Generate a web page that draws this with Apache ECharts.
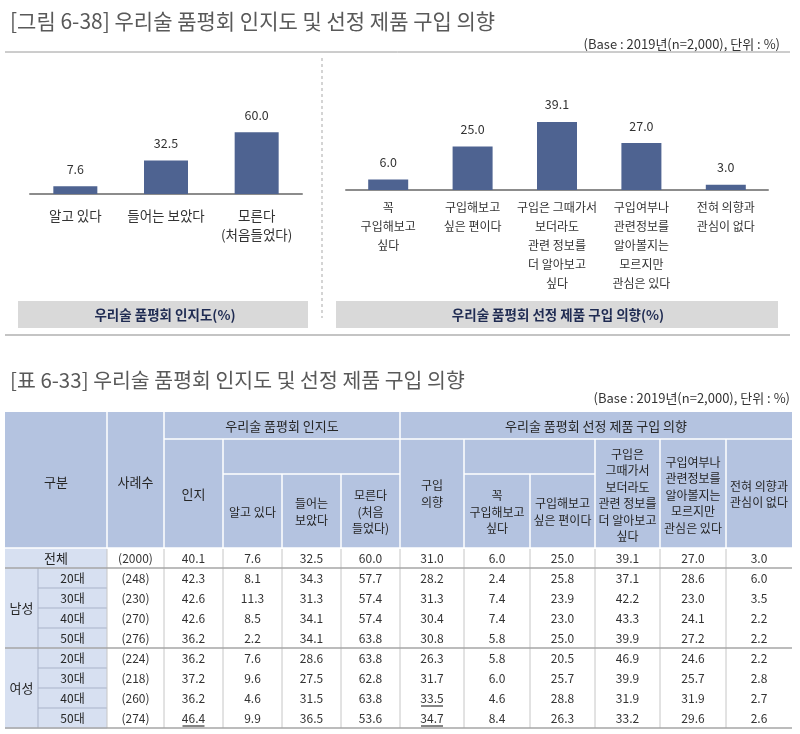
<!DOCTYPE html>
<html>
<head>
<meta charset="utf-8">
<script src="https://cdn.jsdelivr.net/npm/echarts@6/dist/echarts.min.js"></script>
<style>
html,body{margin:0;padding:0;background:#fff;}
#c{width:800px;height:734px;}
</style>
</head>
<body>
<div id="c"></div>
<script>
// ---------- data ----------
const figureTitle = '[그림 6-38] 우리술 품평회 인지도 및 선정 제품 구입 의향';
const tableTitle = '[표 6-33] 우리술 품평회 인지도 및 선정 제품 구입 의향';
const baseNote = '(Base : 2019년(n=2,000), 단위 : %)';

const awarenessCats = ['알고 있다', '들어는 보았다', '모른다\n(처음들었다)'];
const awarenessVals = [7.6, 32.5, 60.0];
const awarenessCaption = '우리술 품평회 인지도(%)';

const intentCats = ['꼭\n구입해보고\n싶다', '구입해보고\n싶은 편이다', '구입은 그때가서\n보더라도\n관련 정보를\n더 알아보고\n싶다', '구입여부나\n관련정보를\n알아볼지는\n모르지만\n관심은 있다', '전혀 의향과\n관심이 없다'];
const intentVals = [6.0, 25.0, 39.1, 27.0, 3.0];
const intentCaption = '우리술 품평회 선정 제품 구입 의향(%)';

const totalLabel = '전체';
const groupLabels = ['남성', '여성'];
const ageLabels = ['20대', '30대', '40대', '50대'];

const sampleSizes = ['(2000)', '(248)', '(230)', '(270)', '(276)', '(224)', '(218)', '(260)', '(274)'];
const awareness = [40.1, 42.3, 42.6, 42.6, 36.2, 36.2, 37.2, 36.2, 46.4];
const knowWell = [7.6, 8.1, 11.3, 8.5, 2.2, 7.6, 9.6, 4.6, 9.9];
const heardOf = [32.5, 34.3, 31.3, 34.1, 34.1, 28.6, 27.5, 31.5, 36.5];
const dontKnow = [60.0, 57.7, 57.4, 57.4, 63.8, 63.8, 62.8, 63.8, 53.6];
const purchaseIntent = [31.0, 28.2, 31.3, 30.4, 30.8, 26.3, 31.7, 33.5, 34.7];
const definitely = [6.0, 2.4, 7.4, 7.4, 5.8, 5.8, 6.0, 4.6, 8.4];
const ratherWant = [25.0, 25.8, 23.9, 23.0, 25.0, 20.5, 25.7, 28.8, 26.3];
const laterInfo = [39.1, 37.1, 42.2, 43.3, 39.9, 46.9, 39.9, 31.9, 33.2];
const unsureInterest = [27.0, 28.6, 23.0, 24.1, 27.2, 24.6, 25.7, 31.9, 29.6];
const noInterest = [3.0, 6.0, 3.5, 2.2, 2.2, 2.2, 2.8, 2.7, 2.6];

const headAware = '우리술 품평회 인지도';
const headIntent = '우리술 품평회 선정 제품 구입 의향';
const headLabels = ['구분', '사례수', '인지', '알고 있다', '들어는\n보았다', '모른다\n(처음\n들었다)',
  '구입\n의향', '꼭\n구입해보고\n싶다', '구입해보고\n싶은 편이다',
  '구입은\n그때가서\n보더라도\n관련 정보를\n더 알아보고\n싶다',
  '구입여부나\n관련정보를\n알아볼지는\n모르지만\n관심은 있다', '전혀 의향과\n관심이 없다'];
// underlined cells: [row, column index in tableColumns]
const underlined = [[8, 1], [7, 5], [8, 5]];

// ---------- layout / style ----------
const FF = "'Noto Sans CJK KR', 'Noto Sans', sans-serif";
const BAR = '#4e6391';
const HEAD = '#b4c3e0';
const LIGHT = '#d7e0f1';

const tableColumns = [sampleSizes, awareness, knowWell, heardOf, dontKnow, purchaseIntent, definitely, ratherWant, laterInfo, unsureInterest, noInterest];
const colX = [5, 38, 107, 164, 223, 282, 341, 400, 464, 530, 595, 660, 726, 792];
const hTop = 412, hMid1 = 439, hMid2 = 474, hBot = 548, rowH = 20;

const g = [];
function rect(x, y, w, h, fill) { g.push({type: 'rect', silent: true, shape: {x, y, width: w, height: h}, style: {fill}}); }
function line(x1, y1, x2, y2, stroke, lw, dash) { g.push({type: 'line', silent: true, shape: {x1, y1, x2, y2}, style: {stroke, lineWidth: lw || 1, lineDash: dash || null}}); }
function text(x, y, t, opt) {
  opt = opt || {};
  g.push({type: 'text', silent: true, x, y, scaleX: opt.scaleX || 1,
    style: {text: t, fill: opt.fill || '#333', font: (opt.weight || 'normal') + ' ' + (opt.size || 12) + 'px ' + FF,
      align: opt.align || 'center', verticalAlign: 'middle', lineHeight: opt.lh || 16.5}});
}

// titles
text(10, 21, figureTitle, {align: 'left', size: 21, fill: '#595959', lh: 25});
text(780, 44, baseNote, {align: 'right', size: 13, fill: '#333', lh: 16});
line(5, 52, 790, 52, '#9a9a9a', 1);
line(322, 58, 322, 318, '#aaaaaa', 1, [3, 3]);
rect(18, 301, 290, 27, '#d9d9d9');
rect(336, 301, 442, 27, '#d9d9d9');
text(165, 315, awarenessCaption, {weight: 'bold', size: 13.5, fill: '#1f2b52'});
text(558, 315, intentCaption, {weight: 'bold', size: 13.5, fill: '#1f2b52'});
line(5, 335, 790, 335, '#c4c4c4', 2);

text(10, 380, tableTitle, {align: 'left', size: 20.5, fill: '#595959', lh: 24});
text(790, 398, baseNote, {align: 'right', size: 13, fill: '#333', lh: 16});

// ----- table header -----
rect(colX[0], hTop, colX[13] - colX[0], hBot - hTop, HEAD);
const W = '#ffffff';
line(colX[2], hTop, colX[2], hBot, W, 1.5);
line(colX[3], hTop, colX[3], hBot, W, 1.5);
line(colX[7], hTop, colX[7], hBot, W, 1.5);
line(colX[3], hMid1, colX[13], hMid1, W, 1.5);
line(colX[4], hMid1, colX[4], hBot, W, 1.5);
line(colX[4], hMid2, colX[7], hMid2, W, 1.5);
line(colX[5], hMid2, colX[5], hBot, W, 1.5);
line(colX[6], hMid2, colX[6], hBot, W, 1.5);
line(colX[8], hMid1, colX[8], hBot, W, 1.5);
line(colX[8], hMid2, colX[10], hMid2, W, 1.5);
line(colX[9], hMid2, colX[9], hBot, W, 1.5);
line(colX[10], hMid1, colX[10], hBot, W, 1.5);
line(colX[11], hMid1, colX[11], hBot, W, 1.5);
line(colX[12], hMid1, colX[12], hBot, W, 1.5);
line(colX[0], hBot, colX[13], hBot, W, 1.5);

const hf = {fill: '#262626', size: 12};
const hf13 = {fill: '#262626', size: 13};
const mid = (a, b) => (colX[a] + colX[b]) / 2;
text(mid(0, 2), 482, headLabels[0], hf13);
text(mid(2, 3), 482, headLabels[1], hf13);
text(mid(3, 7), 426, headAware, hf13);
text(mid(7, 13), 426, headIntent, hf13);
text(mid(3, 4), 494, headLabels[2], hf13);
text(mid(4, 5), 512, headLabels[3], hf);
text(mid(5, 6), 512, headLabels[4], hf);
text(mid(6, 7), 512, headLabels[5], hf);
text(mid(7, 8), 494, headLabels[6], hf);
text(mid(8, 9), 512, headLabels[7], hf);
text(mid(9, 10), 512, headLabels[8], hf);
text(mid(10, 11), 495.5, headLabels[9], hf);
text(mid(11, 12), 495, headLabels[10], hf);
text(mid(12, 13), 494.5, headLabels[11], hf);

// ----- table body -----
const nRows = sampleSizes.length;
const bodyBot = hBot + rowH * nRows;
rect(colX[0], hBot + 0.75, colX[2] - colX[0], rowH * nRows, LIGHT);
for (let r = 1; r < nRows; r++) {
  if (r === 1 || r === 5) continue;
  line(colX[1], hBot + r * rowH, colX[2], hBot + r * rowH, '#a9b3c9', 1);
}
line(colX[1], hBot + rowH, colX[1], bodyBot, '#a9b3c9', 1);
for (let c = 2; c < 13; c++) line(colX[c], hBot + 1, colX[c], bodyBot, '#c6c6c6', 1);
[hBot + rowH, hBot + 5 * rowH, bodyBot].forEach(y => line(colX[0], y, colX[13], y, '#a6a6a6', 1.5));

text(mid(0, 2), hBot + rowH / 2, totalLabel, hf13);
groupLabels.forEach((gl, gi) => {
  text(mid(0, 1), hBot + rowH * (1 + gi * 4) + rowH * 2, gl, hf13);
  ageLabels.forEach((al, ai) => text(mid(1, 2), hBot + rowH * (1 + gi * 4 + ai) + rowH / 2, al, hf));
});
tableColumns.forEach((col, ci) => {
  col.forEach((v, r) => {
    const t = typeof v === 'number' ? v.toFixed(1) : v;
    const cx = mid(ci + 2, ci + 3), cy = hBot + r * rowH + rowH / 2;
    text(cx, cy, t, {fill: '#333', size: 12});
  });
});
underlined.forEach(([r, ci]) => {
  const cx = mid(ci + 2, ci + 3), cy = hBot + r * rowH + rowH / 2;
  line(cx - 11, cy + 8, cx + 11, cy + 8, '#333', 1.2);
});

// ---------- chart ----------
const chart = echarts.init(document.getElementById('c'));
const axisCommon = {
  type: 'category',
  axisTick: {show: false},
  axisLine: {lineStyle: {color: '#8c8c8c', width: 2}},
  axisLabel: {interval: 0, color: '#333', fontSize: 12, lineHeight: 19, fontFamily: FF}
};
const labelCommon = {show: true, position: 'top', distance: 11, color: '#333', fontSize: 12.5, fontFamily: FF,
  formatter: p => p.value.toFixed(1)};
chart.setOption({
  animation: false,
  grid: [
    {left: 30, width: 272, top: 91, height: 103},
    {left: 346, width: 422, top: 103, height: 87}
  ],
  xAxis: [
    Object.assign({}, axisCommon, {gridIndex: 0, data: awarenessCats, axisLabel: Object.assign({}, axisCommon.axisLabel, {margin: 12, fontSize: 13.5})}),
    Object.assign({}, axisCommon, {gridIndex: 1, data: intentCats, axisLabel: Object.assign({}, axisCommon.axisLabel, {margin: 8})})
  ],
  yAxis: [
    {gridIndex: 0, type: 'value', min: 0, max: 100, show: false},
    {gridIndex: 1, type: 'value', min: 0, max: 50, show: false}
  ],
  series: [
    {type: 'bar', xAxisIndex: 0, yAxisIndex: 0, data: awarenessVals, barWidth: 44, itemStyle: {color: BAR}, label: labelCommon},
    {type: 'bar', xAxisIndex: 1, yAxisIndex: 1, data: intentVals, barWidth: 40, itemStyle: {color: BAR}, label: labelCommon}
  ],
  graphic: g
});
</script>
</body>
</html>
